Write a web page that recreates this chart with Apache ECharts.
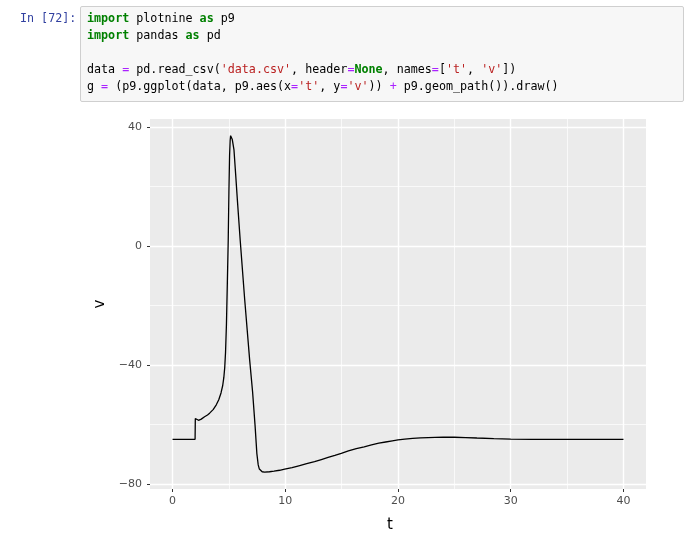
<!DOCTYPE html>
<html>
<head>
<meta charset="utf-8">
<script src="https://cdn.jsdelivr.net/npm/echarts@6/dist/echarts.min.js"></script>
<style>
  html, body { margin: 0; padding: 0; background: #fff; width: 694px; height: 548px; overflow: hidden; }
  #chart { position: absolute; left: 0; top: 0; width: 694px; height: 548px; }
  .prompt { position: absolute; left: 20px; top: 10px; font-family: 'DejaVu Sans Mono', monospace; font-size: 11.7px; line-height: 17px; color: #303F9F; white-space: pre; z-index: 2; }
  .cell { position: absolute; left: 80px; top: 6px; width: 604px; height: 96px; background: #f7f7f7; border: 1px solid #cfcfcf; border-radius: 2px; box-sizing: border-box; z-index: 1; }
  .code { position: absolute; left: 87px; top: 10px; font-family: 'DejaVu Sans Mono', monospace; font-size: 11.7px; line-height: 17px; color: #000; white-space: pre; z-index: 2; }
  .k { color: #008000; font-weight: bold; }
  .o { color: #AA22FF; }
  .s { color: #BA2121; }
</style>
</head>
<body>
<div id="chart"></div>
<div class="cell"></div>
<div class="prompt">In [72]:</div>
<div class="code"><span class="k">import</span> plotnine <span class="k">as</span> p9
<span class="k">import</span> pandas <span class="k">as</span> pd

data <span class="o">=</span> pd.read_csv(<span class="s">'data.csv'</span>, header<span class="o">=</span><span class="k">None</span>, names<span class="o">=</span>[<span class="s">'t'</span>, <span class="s">'v'</span>])
g <span class="o">=</span> (p9.ggplot(data, p9.aes(x<span class="o">=</span><span class="s">'t'</span>, y<span class="o">=</span><span class="s">'v'</span>)) <span class="o">+</span> p9.geom_path()).draw()</div>
<script>
// Data
const tVals = [0, 1, 2, 2.02, 2.15, 2.3, 2.55, 2.84, 3.1, 3.29, 3.6, 3.88, 4.1, 4.3, 4.45, 4.55, 4.63, 4.7, 4.78, 4.86, 4.94, 5.0, 5.06, 5.11, 5.15, 5.2, 5.3, 5.45, 5.6, 5.75, 6.0, 6.4, 6.84, 7.1, 7.32, 7.48, 7.6, 7.7, 7.8, 7.95, 8.17, 8.6, 9.0, 9.5, 9.95, 10.6, 11.2, 11.9, 12.6, 13.2, 13.8, 14.4, 14.97, 15.6, 16.3, 17.0, 17.65, 18.3, 18.9, 19.5, 20.0, 20.6, 21.3, 22.0, 22.67, 23.3, 24.0, 25.0, 26.0, 27.0, 28.5, 30.0, 32.0, 35.0, 40.0];
const vVals = [-65, -65, -65, -58.0, -58.4, -58.6, -58.2, -57.4, -56.8, -56.2, -55.0, -53.4, -51.7, -49.4, -46.9, -44.2, -40.8, -35.8, -26.5, -12.5, 2.0, 18.0, 30.5, 35.5, 37.1, 36.9, 35.8, 32.3, 24.0, 15.5, 2.0, -18.0, -38.3, -49.0, -60.3, -69.8, -73.6, -75.0, -75.6, -75.9, -76.0, -75.9, -75.7, -75.4, -75.0, -74.5, -73.9, -73.2, -72.5, -71.8, -71.1, -70.4, -69.7, -68.9, -68.1, -67.5, -66.9, -66.3, -65.9, -65.5, -65.2, -64.9, -64.7, -64.5, -64.4, -64.35, -64.3, -64.3, -64.4, -64.55, -64.75, -64.9, -65.0, -65.0, -65.0];
const xMajor = [0, 10, 20, 30, 40];
const xMinor = [5, 15, 25, 35];
const yMajor = [-80, -40, 0, 40];
const yMinor = [-60, -20, 20];

const points = tVals.map((t, i) => [t, vVals[i]]);
const fmt = v => (v < 0 ? '\u2212' + Math.abs(v) : String(v));

const chart = echarts.init(document.getElementById('chart'), null, { renderer: 'canvas' });
const X_MIN = -2, X_MAX = 42, Y_MIN = -81.7, Y_MAX = 42.7;
const gridLine = (w) => ({ show: true, lineStyle: { color: '#ffffff', width: w } });

chart.setOption({
  animation: false,
  grid: { left: 150, right: 48, top: 119, bottom: 59, show: true, backgroundColor: '#EBEBEB', borderWidth: 0 },
  xAxis: [
    {
      type: 'value', min: X_MIN, max: X_MAX, position: 'bottom',
      axisLine: { show: false, onZero: false },
      axisTick: { show: true, length: 3, customValues: xMajor, lineStyle: { color: '#333333', width: 1 } },
      axisLabel: { customValues: xMajor, formatter: fmt, color: '#4D4D4D', fontSize: 11, fontFamily: 'DejaVu Sans', margin: 7 },
      splitLine: gridLine(1.4),
      name: 't', nameLocation: 'middle', nameGap: 29,
      nameTextStyle: { color: '#000', fontSize: 15, fontFamily: 'DejaVu Sans', padding: [0, 16, 0, 0] }
    },
    {
      type: 'value', min: X_MIN, max: X_MAX, position: 'bottom',
      axisLine: { show: false, onZero: false },
      axisTick: { show: false, customValues: xMinor },
      axisLabel: { show: false, customValues: xMinor },
      splitLine: gridLine(0.7)
    }
  ],
  yAxis: [
    {
      type: 'value', min: Y_MIN, max: Y_MAX, position: 'left',
      axisLine: { show: false, onZero: false },
      axisTick: { show: true, length: 3, customValues: yMajor, lineStyle: { color: '#333333', width: 1 } },
      axisLabel: { customValues: yMajor, formatter: fmt, color: '#4D4D4D', fontSize: 11, fontFamily: 'DejaVu Sans', margin: 8 },
      splitLine: gridLine(1.4),
      name: 'v', nameLocation: 'middle', nameGap: 40,
      nameTextStyle: { color: '#000', fontSize: 15, fontFamily: 'DejaVu Sans' }
    },
    {
      type: 'value', min: Y_MIN, max: Y_MAX, position: 'left',
      axisLine: { show: false, onZero: false },
      axisTick: { show: false, customValues: yMinor },
      axisLabel: { show: false, customValues: yMinor },
      splitLine: gridLine(0.7)
    }
  ],
  series: [{
    type: 'line', xAxisIndex: 0, yAxisIndex: 0,
    data: points, showSymbol: false, symbol: 'none', smooth: false,
    lineStyle: { color: '#000000', width: 1.3 },
    silent: true
  }]
});
</script>
</body>
</html>
